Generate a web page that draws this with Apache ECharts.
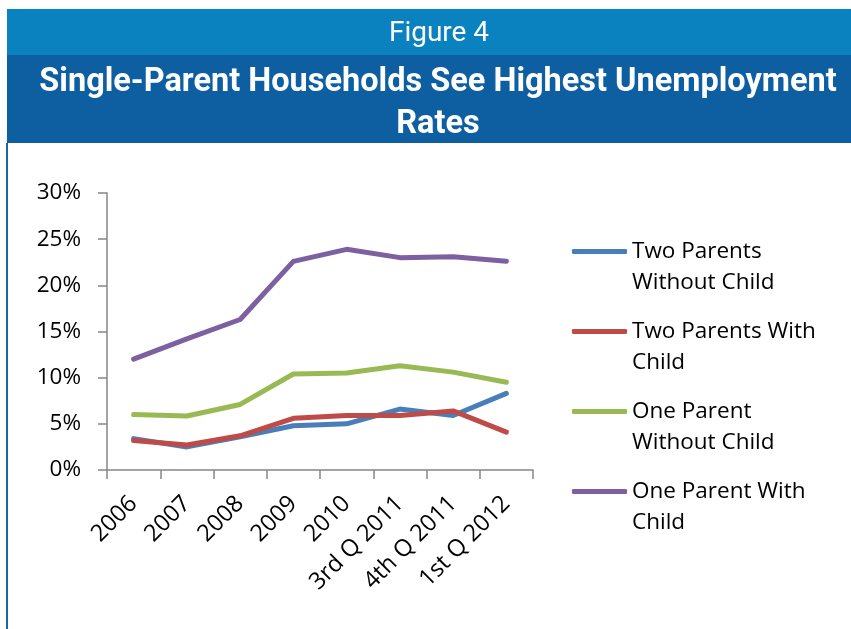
<!DOCTYPE html>
<html><head><meta charset="utf-8">
<script src="https://cdn.jsdelivr.net/npm/echarts@6/dist/echarts.min.js"></script>
<style>html,body{margin:0;padding:0;background:#fff}#c{width:851px;height:629px}</style>
</head><body><div id="c"></div>
<script>
const categories = ['2006','2007','2008','2009','2010','3rd Q 2011','4th Q 2011','1st Q 2012'];
const seriesNames = ['Two Parents\nWithout Child','Two Parents With\nChild','One Parent\nWithout Child','One Parent With\nChild'];
const twoParentsWithoutChild = [3.4, 2.5, 3.6, 4.8, 5.0, 6.6, 5.9, 8.3];
const twoParentsWithChild    = [3.2, 2.7, 3.7, 5.6, 5.9, 5.9, 6.4, 4.1];
const oneParentWithoutChild  = [6.0, 5.85, 7.1, 10.4, 10.5, 11.3, 10.6, 9.5];
const oneParentWithChild     = [12.0, 14.2, 16.3, 22.6, 23.9, 23.0, 23.1, 22.6];
const colors = ['#4a7ebb','#be4b48','#98b954','#7d60a0'];
const yTicks = {min: 0, max: 30, interval: 5};

const chart = echarts.init(document.getElementById('c'), null, {renderer: 'canvas'});
const dataSets = [twoParentsWithoutChild, twoParentsWithChild, oneParentWithoutChild, oneParentWithChild];
const axisFont = 'Open Sans';
chart.setOption({
  animation: false,
  graphic: [
    {type: 'rect', shape: {x: 7, y: 9, width: 844, height: 46}, style: {fill: '#0a82c0'}, silent: true},
    {type: 'rect', shape: {x: 7, y: 55, width: 844, height: 88}, style: {fill: '#0e5ea2'}, silent: true},
    {type: 'rect', shape: {x: 6, y: 143, width: 2, height: 486}, style: {fill: '#1a64a8'}, silent: true}
  ],
  title: [
    {text: 'Figure 4', left: 434, top: 15, textAlign: 'center',
     textStyle: {color: '#fff', fontFamily: 'Roboto', fontWeight: 'normal', fontSize: 28}},
    {text: 'Single-Parent Households See Highest Unemployment\nRates', left: 433, top: 57, textAlign: 'center',
     textStyle: {color: '#fff', fontFamily: 'Roboto', fontWeight: 'bold', fontSize: 32.5, lineHeight: 42}}
  ],
  grid: {left: 107, right: 318, top: 193, bottom: 159, containLabel: false},
  xAxis: {
    type: 'category', data: categories, boundaryGap: true,
    axisLine: {lineStyle: {color: '#868686', width: 1.5}},
    axisTick: {show: true, length: 9, lineStyle: {color: '#868686', width: 1.5}},
    axisLabel: {rotate: 45, interval: 0, margin: 30, color: '#000', fontFamily: axisFont, fontSize: 23.5}
  },
  yAxis: {
    type: 'value', min: yTicks.min, max: yTicks.max, interval: yTicks.interval,
    axisLine: {show: true, lineStyle: {color: '#868686', width: 1.5}},
    axisTick: {show: true, length: 9, lineStyle: {color: '#868686', width: 1.5}},
    splitLine: {show: false},
    axisLabel: {formatter: '{value}%', margin: 26, color: '#000', fontFamily: axisFont, fontSize: 22.5}
  },
  legend: {
    orient: 'vertical', left: 572, top: 205, padding: 0, itemGap: -13,
    itemWidth: 55, itemHeight: 5, icon: 'roundRect',
    formatter: n => '\n' + n,
    textStyle: {color: '#000', fontFamily: axisFont, fontSize: 22.5, lineHeight: 31},
    data: seriesNames
  },
  series: dataSets.map((d, i) => ({
    name: seriesNames[i], type: 'line', data: d, symbol: 'none',
    lineStyle: {color: colors[i], width: 5, cap: 'round', join: 'round'},
    itemStyle: {color: colors[i]}
  }))
});
</script></body></html>
